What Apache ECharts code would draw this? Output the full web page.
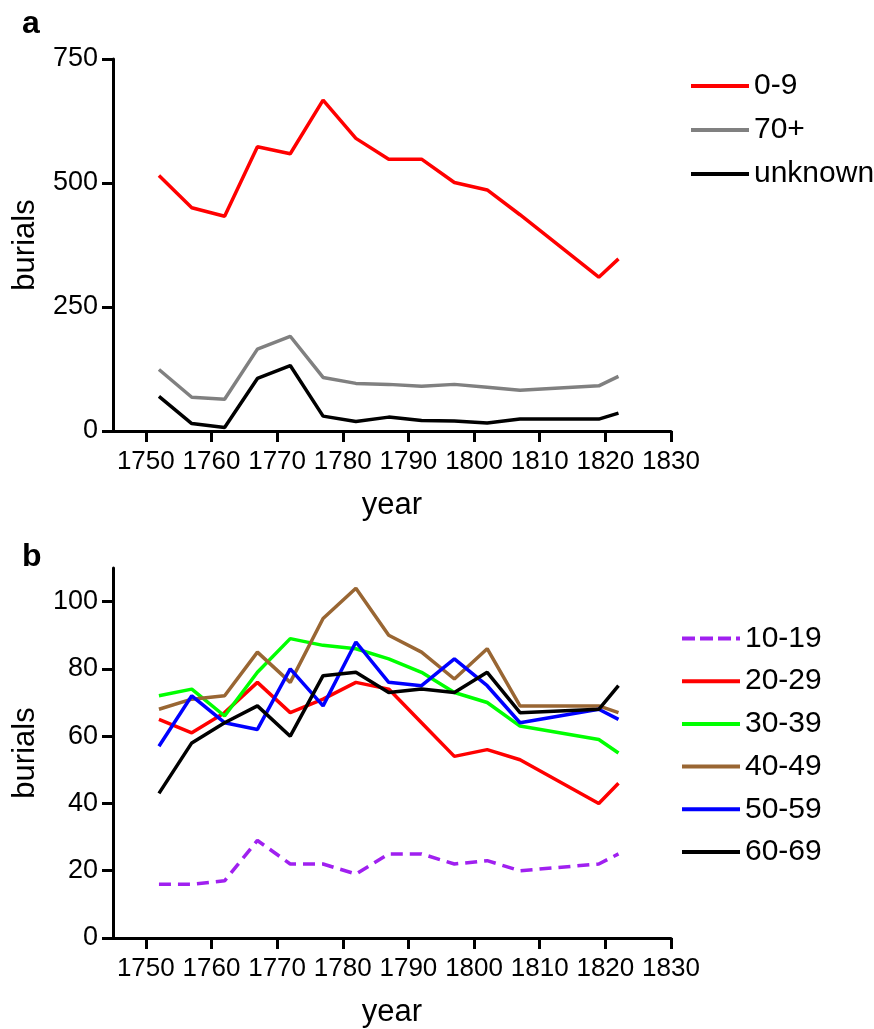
<!DOCTYPE html>
<html>
<head>
<meta charset="utf-8">
<script src="https://cdn.jsdelivr.net/npm/echarts@6/dist/echarts.min.js"></script>
<style>
  html, body { margin: 0; padding: 0; background: #fff; }
  #chart { width: 874px; height: 1029px; }
</style>
</head>
<body>
<div id="chart"></div>
<script>
// Burials by age group, mid-years of each period
const years = [1752, 1757, 1762, 1767, 1772, 1777, 1782, 1787, 1792, 1797, 1802, 1807, 1819, 1822];
const xTicks = [1750, 1760, 1770, 1780, 1790, 1800, 1810, 1820, 1830];

// Panel a
const age0_9    = [515, 450, 433, 573, 559, 667, 590, 548, 548, 501, 486, 436, 310, 347];
const age70plus = [124, 68, 64, 165, 191, 108, 96, 94, 90, 94, 88, 82, 91, 110];
const ageUnknown= [70, 15, 7, 106, 132, 30, 19, 28, 21, 20, 16, 24, 24, 36];
const yTicksA = [0, 250, 500, 750];

// Panel b
const age10_19 = [16, 16, 17, 29, 22, 22, 19, 25, 25, 22, 23, 20, 22, 25];
const age20_29 = [65, 61, 67, 76, 67, 71, 76, 74, 64, 54, 56, 53, 40, 46];
const age30_39 = [72, 74, 66, 79, 89, 87, 86, 83, 79, 73, 70, 63, 59, 55];
const age40_49 = [68, 71, 72, 85, 76, 95, 104, 90, 85, 77, 86, 69, 69, 67];
const age50_59 = [57, 72, 64, 62, 80, 69, 88, 76, 75, 83, 75, 64, 68, 65];
const age60_69 = [43, 58, 64, 69, 60, 78, 79, 73, 74, 73, 79, 67, 68, 75];
const yTicksB = [0, 20, 40, 60, 80, 100];

const FONT = '"Liberation Sans", Arial, sans-serif';
const pairs = vals => years.map((y, i) => [y, vals[i]]);

// legend swatches: a plain bar and a dashed bar
const SOLID_ICON = 'path://M0,0H58V4H0Z';
const DASH_ICON = 'path://M0,0H13V4H0Z M18,0H31V4H18Z M36,0H49V4H36Z M54,0H58V4H54Z';

const axisLineStyle = { show: true, lineStyle: { color: '#000', width: 3 } };
const tickStyle = { show: true, length: 11, lineStyle: { color: '#000', width: 3 } };
const nameText = { color: '#000', fontFamily: FONT, fontSize: 31 };

function xAxis(gridIndex) {
  return {
    type: 'value', gridIndex, min: 1745, max: 1830,
    name: 'year', nameLocation: 'middle', nameGap: 59, nameTextStyle: nameText,
    axisLine: axisLineStyle,
    axisTick: Object.assign({ customValues: xTicks }, tickStyle),
    axisLabel: {
      customValues: xTicks, margin: 18, formatter: v => String(v),
      color: '#000', fontFamily: FONT, fontSize: 26
    },
    splitLine: { show: false }
  };
}

function yAxis(gridIndex, max, ticks) {
  return {
    type: 'value', gridIndex, min: 0, max,
    name: 'burials', nameLocation: 'middle', nameGap: 72, nameTextStyle: nameText,
    axisLine: axisLineStyle,
    axisTick: Object.assign({ customValues: ticks }, tickStyle),
    axisLabel: {
      customValues: ticks, margin: 15, formatter: v => String(v),
      color: '#000', fontFamily: FONT, fontSize: 27
    },
    splitLine: { show: false }
  };
}

function line(name, vals, color, axis, dash) {
  return {
    name, type: 'line', xAxisIndex: axis, yAxisIndex: axis,
    data: pairs(vals), symbol: 'none', animation: false,
    lineStyle: { color, width: 3.5, type: dash || 'solid' },
    itemStyle: { color }
  };
}

const legendText = { color: '#000', fontFamily: FONT, fontSize: 30, lineHeight: 30 };

const option = {
  backgroundColor: '#fff',
  animation: false,
  grid: [
    { left: 113, right: 203, top: 59, bottom: 598 },
    { left: 113, right: 203, top: 568, bottom: 88 }
  ],
  xAxis: [xAxis(0), xAxis(1)],
  yAxis: [yAxis(0, 750, yTicksA), yAxis(1, 110, yTicksB)],
  legend: [
    {
      data: ['0-9', '70+', 'unknown'].map(n => ({ name: n, icon: SOLID_ICON })),
      orient: 'vertical', left: 691, top: 71, padding: 0,
      itemWidth: 58, itemHeight: 4, itemGap: 14,
      textStyle: legendText
    },
    {
      data: ['10-19', '20-29', '30-39', '40-49', '50-59', '60-69']
        .map(n => ({ name: n, icon: n === '10-19' ? DASH_ICON : SOLID_ICON })),
      orient: 'vertical', left: 682, top: 623.5, padding: 0,
      itemWidth: 58, itemHeight: 4, itemGap: 12.7,
      textStyle: legendText
    }
  ],
  graphic: [
    { type: 'text', left: 22, top: 8, style: { text: 'a', fontFamily: FONT, fontSize: 32, fontWeight: 'bold', fill: '#000' } },
    { type: 'text', left: 22, top: 541, style: { text: 'b', fontFamily: FONT, fontSize: 32, fontWeight: 'bold', fill: '#000' } }
  ],
  series: [
    line('0-9', age0_9, '#ff0000', 0),
    line('70+', age70plus, '#808080', 0),
    line('unknown', ageUnknown, '#000000', 0),
    line('10-19', age10_19, '#a020f0', 1, [12, 7]),
    line('20-29', age20_29, '#ff0000', 1),
    line('30-39', age30_39, '#00ff00', 1),
    line('40-49', age40_49, '#996633', 1),
    line('50-59', age50_59, '#0000ff', 1),
    line('60-69', age60_69, '#000000', 1)
  ]
};

echarts.init(document.getElementById('chart'), null, { renderer: 'canvas' }).setOption(option);
</script>
</body>
</html>
